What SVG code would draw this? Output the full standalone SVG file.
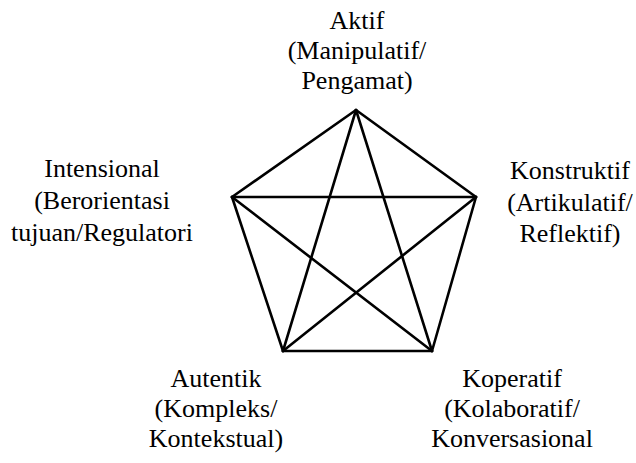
<svg xmlns="http://www.w3.org/2000/svg" width="636" height="463" viewBox="0 0 636 463">
  <style>
    .lbl { font-family: 'Liberation Serif', 'DejaVu Serif', serif; font-size: 26px; fill: #000; text-anchor: middle; }
    .edge { stroke: #000; stroke-width: 2.6; fill: none; stroke-linecap: round; stroke-linejoin: round; }
  </style>
  <rect width="636" height="463" fill="#fff"/>

  <!-- pentagon outline and star diagonals -->
  <g id="connectors">
    <line class="edge" x1="356" y1="110" x2="476" y2="197"/>
    <line class="edge" x1="476" y1="197" x2="432" y2="351"/>
    <line class="edge" x1="432" y1="351" x2="283" y2="351"/>
    <line class="edge" x1="283" y1="351" x2="232" y2="197"/>
    <line class="edge" x1="232" y1="197" x2="356" y2="110"/>
    <line class="edge" x1="356" y1="110" x2="283" y2="351"/>
    <line class="edge" x1="356" y1="110" x2="432" y2="351"/>
    <line class="edge" x1="232" y1="197" x2="476" y2="197"/>
    <line class="edge" x1="232" y1="197" x2="432" y2="351"/>
    <line class="edge" x1="476" y1="197" x2="283" y2="351"/>
  </g>

  <g id="aktif" font-family="Liberation Serif, serif">
    <text class="lbl" x="357" y="29">Aktif</text>
    <text class="lbl" x="357" y="59">(Manipulatif/</text>
    <text class="lbl" x="357" y="89">Pengamat)</text>
  </g>

  <g id="intensional">
    <text class="lbl" x="102" y="177">Intensional</text>
    <text class="lbl" x="102" y="209">(Berorientasi</text>
    <text class="lbl" x="102" y="241">tujuan/Regulatori</text>
  </g>

  <g id="konstruktif">
    <text class="lbl" x="570" y="179">Konstruktif</text>
    <text class="lbl" x="570" y="211">(Artikulatif/</text>
    <text class="lbl" x="570" y="242">Reflektif)</text>
  </g>

  <g id="autentik">
    <text class="lbl" x="216" y="387">Autentik</text>
    <text class="lbl" x="216" y="417">(Kompleks/</text>
    <text class="lbl" x="216" y="447">Kontekstual)</text>
  </g>

  <g id="koperatif">
    <text class="lbl" x="512" y="387">Koperatif</text>
    <text class="lbl" x="512" y="417">(Kolaboratif/</text>
    <text class="lbl" x="512" y="447">Konversasional</text>
  </g>
</svg>
